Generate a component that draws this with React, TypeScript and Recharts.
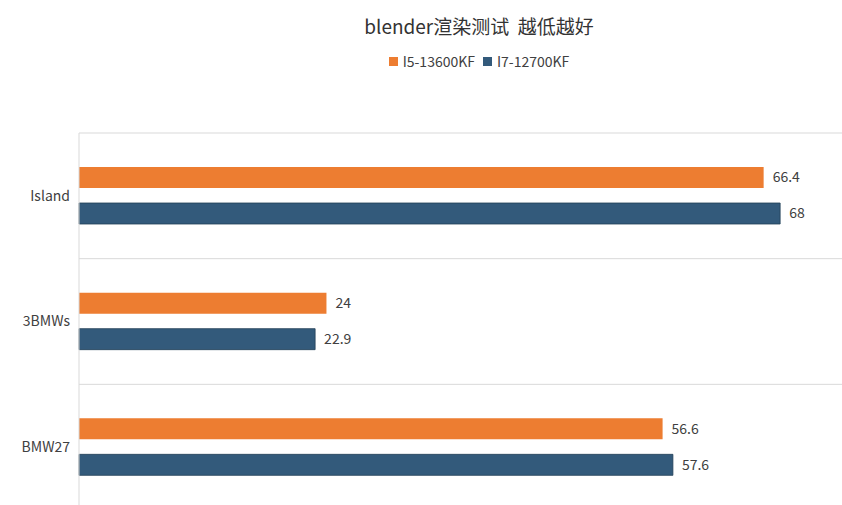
import React from "react";
import {
  BarChart,
  Bar,
  XAxis,
  YAxis,
  CartesianGrid,
  LabelList,
} from "recharts";

const CATEGORIES = ["Island", "3BMWs", "BMW27"];
const I5_VALUES = [66.4, 24, 56.6];
const I7_VALUES = [68, 22.9, 57.6];
const SERIES_NAMES = ["I5-13600KF", "I7-12700KF"];
const SERIES_COLORS = ["#ED7D31", "#335A7B"];
const TITLE = "blender渲染测试  越低越好";

const data = CATEGORIES.map((name, i) => ({
  name,
  i5: I5_VALUES[i],
  i7: I7_VALUES[i],
}));

const FONT = "'Noto Sans CJK SC', 'Noto Sans', sans-serif";

// the source chart is wider than the visible crop; header is centred on the full width
const HEADER_WIDTH = 958;

const bandLines = ({ offset }: any) => {
  const top = offset.top;
  const h = offset.height;
  return [0, 1, 2, 3].map((k) => top + (h * k) / CATEGORIES.length);
};

const App = () => {
  return (
    <div
      style={{
        width: 842,
        height: 505,
        overflow: "hidden",
        position: "absolute",
        top: 0,
        left: 0,
        background: "#fff",
        fontFamily: FONT,
      }}
    >
      <div
        style={{
          position: "absolute",
          top: 12,
          left: 0,
          width: HEADER_WIDTH,
          textAlign: "center",
          fontSize: 19,
          color: "#333",
          whiteSpace: "pre",
        }}
      >
        {TITLE}
      </div>
      <div
        style={{
          position: "absolute",
          top: 51,
          left: 0,
          width: HEADER_WIDTH,
          display: "flex",
          justifyContent: "center",
          gap: 8,
          fontSize: 14,
          color: "#404040",
        }}
      >
        {SERIES_NAMES.map((n, i) => (
          <span key={n} style={{ display: "flex", alignItems: "center" }}>
            <span
              style={{
                width: 9,
                height: 9,
                background: SERIES_COLORS[i],
                display: "inline-block",
                marginRight: 5,
              }}
            />
            {n}
          </span>
        ))}
      </div>
      <div style={{ position: "absolute", top: 0, left: 0 }}>
        <BarChart
          width={842}
          height={520}
          data={data}
          layout="vertical"
          margin={{ top: 133, right: 0, bottom: 10, left: 0 }}
          barSize={21}
          barGap={15}
        >
          <CartesianGrid
            vertical={false}
            stroke="#d9d9d9"
            horizontalCoordinatesGenerator={bandLines}
          />
          <XAxis type="number" domain={[0, 74]} hide />
          <YAxis
            type="category"
            dataKey="name"
            width={79}
            axisLine={{ stroke: "#d9d9d9" }}
            tickLine={false}
            tick={{ fontSize: 14, fill: "#404040", fontFamily: FONT }}
            tickMargin={3}
          />
          <Bar dataKey="i5" name={SERIES_NAMES[0]} fill={SERIES_COLORS[0]} isAnimationActive={false}>
            <LabelList
              dataKey="i5"
              position="right"
              offset={9}
              style={{ fontSize: 14, fill: "#404040", fontFamily: FONT }}
            />
          </Bar>
          <Bar
            dataKey="i7"
            name={SERIES_NAMES[1]}
            fill={SERIES_COLORS[1]}
            stroke="#223f57"
            strokeWidth={0.8}
            isAnimationActive={false}
          >
            <LabelList
              dataKey="i7"
              position="right"
              offset={9}
              style={{ fontSize: 14, fill: "#404040", fontFamily: FONT }}
            />
          </Bar>
        </BarChart>
      </div>
    </div>
  );
};

export default App;
